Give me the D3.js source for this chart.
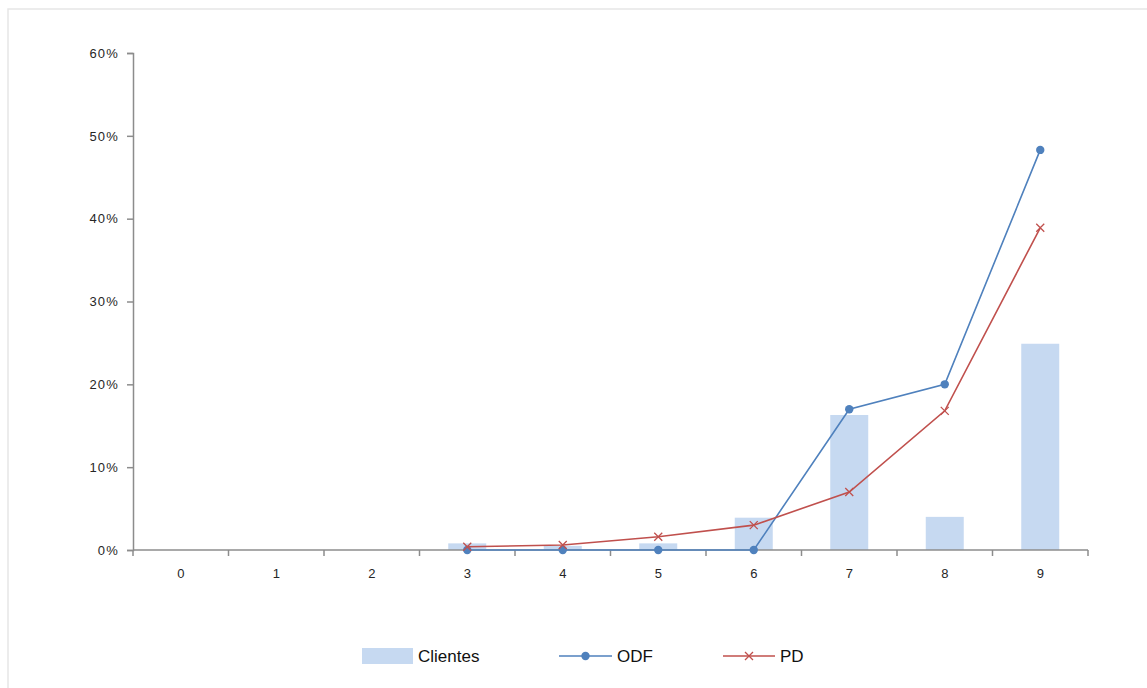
<!DOCTYPE html>
<html><head><meta charset="utf-8">
<script src="https://cdn.jsdelivr.net/npm/d3@7"></script>
<style>body{margin:0;background:#fff;} svg{display:block;}</style>
</head><body>
<svg id="c" width="1147" height="688"></svg>
<script>
const categories = ["0","1","2","3","4","5","6","7","8","9"];
const clientes = [null,null,null,0.008,0.005,0.008,0.039,0.163,0.040,0.249];
const odf = [null,null,null,0,0,0,0,0.170,0.200,0.483];
const pd = [null,null,null,0.004,0.006,0.016,0.030,0.070,0.168,0.389];
const yTicks = [0,0.1,0.2,0.3,0.4,0.5,0.6];

const svg = d3.select("#c");
const W=1147,H=688;
svg.append("rect").attr("x",8).attr("y",9).attr("width",W).attr("height",H).attr("fill","#fff").attr("stroke","#e6e6e6").attr("stroke-width",1.5);

const x = d3.scaleBand().domain(categories).range([133,1088]);
const y = d3.scaleLinear().domain([0,0.6]).range([550,53]);
const font = "'Liberation Sans', Arial, sans-serif";
const axisCol = "#8c8c8c";

// bars
svg.append("g").selectAll("rect").data(categories.map((c,i)=>({c,v:clientes[i]})).filter(d=>d.v!=null))
 .join("rect").attr("x",d=>x(d.c)+x.bandwidth()/2-19).attr("width",38)
 .attr("y",d=>y(d.v)).attr("height",d=>y(0)-y(d.v)).attr("fill","#c6d9f1");

// y axis
const ya = svg.append("g").attr("transform","translate(133,0)")
 .call(d3.axisLeft(y).tickValues(yTicks).tickFormat(d=>Math.round(d*100)+"%").tickSize(6).tickSizeOuter(6).tickPadding(8));
ya.select(".domain").attr("stroke",axisCol).attr("stroke-width",1.5);
ya.selectAll("line").attr("stroke",axisCol).attr("stroke-width",1.5);
ya.selectAll("text").attr("font-family",font).attr("font-size",13).attr("letter-spacing","1.2px").attr("fill","#262626");

// x axis
const xa = svg.append("g").attr("transform","translate(0,550)")
 .call(d3.axisBottom(x).tickSize(0).tickPadding(19));
xa.select(".domain").remove();
xa.selectAll("text").attr("font-family",font).attr("font-size",13).attr("fill","#262626");
svg.append("line").attr("x1",133).attr("x2",1088).attr("y1",550).attr("y2",550).attr("stroke",axisCol).attr("stroke-width",1.5);
svg.append("g").selectAll("line").data(d3.range(categories.length+1))
 .join("line").attr("x1",i=>133+i*x.step()).attr("x2",i=>133+i*x.step()).attr("y1",550).attr("y2",556).attr("stroke",axisCol).attr("stroke-width",1.5);

const cx = c=>x(c)+x.bandwidth()/2;
function series(vals,color){
  const pts = categories.map((c,i)=>({c,v:vals[i]})).filter(d=>d.v!=null);
  svg.append("path").datum(pts).attr("fill","none").attr("stroke",color).attr("stroke-width",1.6)
   .attr("d",d3.line().x(d=>cx(d.c)).y(d=>y(d.v)));
  return pts;
}
const odfPts = series(odf,"#4f81bd");
svg.append("g").selectAll("circle").data(odfPts).join("circle")
 .attr("cx",d=>cx(d.c)).attr("cy",d=>y(d.v)).attr("r",4.2).attr("fill","#4f81bd");
const pdPts = series(pd,"#c0504d");
svg.append("g").selectAll("path").data(pdPts).join("path")
 .attr("transform",d=>`translate(${cx(d.c)},${y(d.v)})`)
 .attr("d","M-4,-4L4,4M-4,4L4,-4").attr("stroke","#c0504d").attr("stroke-width",1.3).attr("fill","none");

// legend
const lg = svg.append("g").attr("font-family",font).attr("font-size",17).attr("fill","#111");
lg.append("rect").attr("x",362).attr("y",648).attr("width",51).attr("height",16).attr("fill","#c6d9f1");
lg.append("text").attr("x",418).attr("y",662).text("Clientes");
lg.append("line").attr("x1",559).attr("x2",612).attr("y1",656).attr("y2",656).attr("stroke","#4f81bd").attr("stroke-width",1.6);
lg.append("circle").attr("cx",585.5).attr("cy",656).attr("r",4.2).attr("fill","#4f81bd");
lg.append("text").attr("x",617).attr("y",662).text("ODF");
lg.append("line").attr("x1",723).attr("x2",775).attr("y1",656).attr("y2",656).attr("stroke","#c0504d").attr("stroke-width",1.6);
lg.append("path").attr("transform","translate(749,656)").attr("d","M-4,-4L4,4M-4,4L4,-4").attr("stroke","#c0504d").attr("stroke-width",1.3);
lg.append("text").attr("x",780).attr("y",662).text("PD");
</script>
</body></html>
